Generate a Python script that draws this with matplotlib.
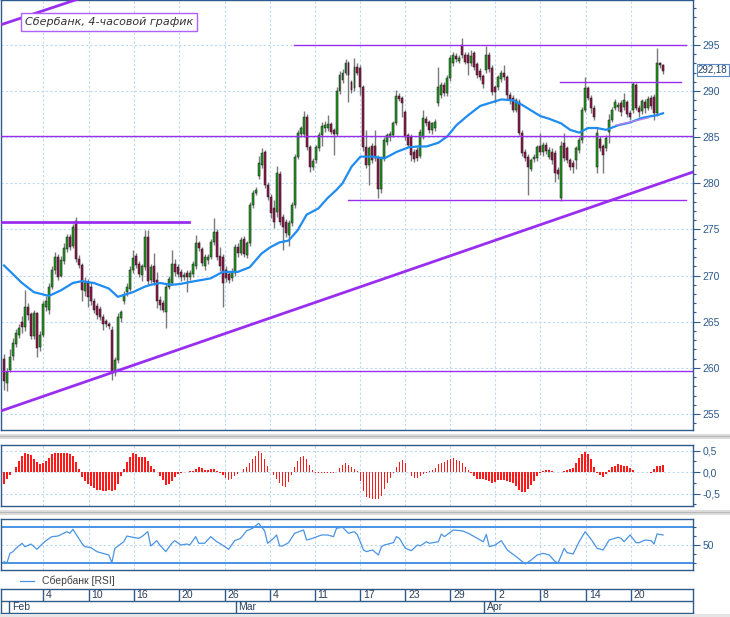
import matplotlib
matplotlib.use("Agg")
import matplotlib.pyplot as plt
from matplotlib.lines import Line2D
from matplotlib.patches import Rectangle
from matplotlib.ticker import FixedLocator, MultipleLocator

plt.rcParams['font.family'] = ['Liberation Sans', 'DejaVu Sans']

W, H = 730, 617

# ---- data, one bar = 4 hours ----
open_ = [
    261.0, 258.4, 259.8, 261.3, 262.6, 263.6, 265.0, 264.4, 266.6, 265.8,
    263.4, 265.9, 262.3, 263.6, 266.6, 266.3, 268.8, 270.6, 272.0, 270.0,
    271.6, 272.9, 274.2, 273.2, 275.9, 271.8, 271.2, 268.3, 269.2, 268.8,
    267.2, 266.7, 266.4, 265.5, 265.1, 264.8, 264.1, 259.5, 260.8, 265.4,
    267.2, 268.2, 268.6, 270.6, 272.1, 271.3, 270.1, 270.9, 274.2, 269.5,
    271.0, 269.5, 267.4, 267.0, 266.1, 268.8, 269.2, 271.3, 270.9, 270.4,
    269.8, 270.3, 269.8, 270.2, 271.0, 273.5, 272.9, 271.0, 271.7, 272.0,
    273.6, 274.7, 272.1, 272.0, 270.6, 270.2, 269.7, 270.3, 273.1, 272.5,
    274.0, 272.2, 273.5, 277.6, 279.0, 280.8, 282.0, 283.4, 279.8, 278.5,
    277.3, 276.9, 281.0, 276.4, 275.8, 274.4, 275.7, 277.6, 282.9, 285.4,
    285.4, 287.2, 283.9, 281.8, 282.5, 283.8, 285.2, 286.0, 286.0, 286.4,
    285.8, 285.4, 290.0, 291.2, 292.0, 293.0, 291.0, 290.3, 292.6, 292.5,
    290.4, 283.9, 282.0, 284.0, 284.0, 282.8, 279.4, 282.7, 284.5, 285.0,
    285.2, 286.5, 289.5, 289.3, 287.7, 285.2, 285.0, 283.4, 283.6, 283.0,
    285.0, 287.0, 286.6, 285.8, 286.0, 288.7, 289.6, 290.7, 289.8, 291.4,
    293.0, 293.8, 293.3, 295.0, 293.9, 293.9, 293.0, 294.1, 292.9, 292.2,
    291.6, 292.3, 293.9, 292.5, 290.4, 290.4, 291.3, 292.0, 291.5, 289.6,
    289.3, 288.0, 288.8, 285.5, 283.4, 282.9, 281.6, 282.6, 282.7, 284.0,
    283.4, 284.2, 282.9, 283.4, 283.3, 281.5, 278.4, 284.4, 283.8, 282.5,
    282.2, 282.5, 283.6, 284.7, 288.0, 290.3, 289.3, 288.2, 281.8, 284.8,
    284.0, 283.8, 285.6, 286.9, 288.2, 288.3, 288.7, 288.3, 288.8, 287.6,
    288.0, 290.7, 288.2, 287.8, 288.8, 288.2, 289.3, 289.4, 287.6, 293.0,
    292.8,
]
high = [
    261.5, 260.0, 262.0, 263.2, 264.2, 264.8, 265.6, 268.4, 267.0, 266.1,
    266.3, 266.1, 264.0, 267.3, 267.8, 269.2, 271.0, 272.6, 272.3, 272.1,
    273.5, 274.5, 274.5, 275.6, 276.3, 272.2, 271.4, 269.8, 269.6, 269.3,
    267.6, 267.0, 266.7, 265.8, 265.3, 265.0, 264.5, 261.2, 265.9, 266.3,
    268.3, 269.2, 271.0, 272.8, 272.4, 271.6, 271.3, 274.9, 274.9, 271.3,
    272.4, 270.4, 267.8, 267.4, 269.2, 270.0, 272.8, 271.8, 271.3, 270.7,
    270.4, 270.6, 270.6, 271.6, 274.4, 273.8, 273.1, 272.3, 272.3, 274.0,
    276.2, 275.0, 273.1, 272.3, 271.0, 270.5, 270.8, 273.4, 273.5, 274.2,
    274.3, 273.8, 278.0, 279.3, 279.6, 283.0, 283.8, 283.6, 280.2, 278.8,
    278.2, 281.9, 281.3, 276.7, 276.1, 276.0, 278.0, 283.2, 285.8, 286.2,
    287.8, 287.5, 284.2, 282.8, 284.2, 285.6, 286.7, 286.8, 287.4, 286.7,
    286.0, 290.4, 292.2, 292.4, 293.5, 293.3, 291.2, 293.6, 293.0, 292.8,
    290.7, 285.8, 284.1, 284.4, 285.8, 283.1, 283.0, 285.0, 285.5, 285.7,
    286.8, 290.1, 289.8, 289.5, 288.0, 285.5, 285.3, 283.7, 283.9, 285.9,
    287.9, 287.3, 286.9, 286.7, 287.0, 292.6, 291.0, 291.0, 291.7, 293.9,
    294.2, 294.1, 293.9, 295.8, 294.2, 294.2, 294.5, 294.4, 293.2, 292.5,
    291.9, 294.9, 294.2, 292.8, 290.7, 291.8, 292.3, 292.8, 291.8, 289.9,
    289.6, 289.3, 289.1, 285.8, 283.7, 283.2, 282.8, 283.2, 284.2, 285.5,
    284.5, 284.5, 283.9, 283.8, 283.6, 281.8, 284.6, 285.5, 284.1, 282.8,
    282.5, 284.1, 285.0, 288.3, 291.5, 290.6, 289.6, 288.5, 286.0, 285.1,
    284.3, 285.2, 287.5, 288.3, 289.1, 288.8, 289.0, 289.8, 289.0, 287.9,
    291.0, 290.9, 288.5, 289.2, 289.1, 289.5, 289.6, 289.7, 294.7, 293.2,
    292.9,
]
low = [
    257.6, 257.5, 259.5, 260.8, 262.3, 263.2, 263.8, 264.0, 265.2, 263.1,
    263.1, 261.2, 261.8, 263.3, 266.2, 265.8, 268.5, 270.2, 269.5, 269.8,
    271.3, 272.6, 272.8, 273.0, 271.5, 270.8, 267.3, 267.8, 266.6, 266.8,
    265.9, 265.3, 265.2, 264.1, 264.4, 264.2, 258.7, 259.1, 260.5, 265.0,
    266.9, 267.8, 268.3, 270.3, 270.8, 269.8, 269.4, 270.6, 269.0, 269.2,
    269.0, 266.5, 266.3, 266.0, 264.3, 268.5, 269.0, 270.0, 269.9, 269.4,
    269.5, 268.2, 269.5, 269.9, 270.7, 272.7, 271.0, 270.6, 271.3, 271.8,
    273.3, 271.7, 270.5, 266.6, 269.3, 269.2, 269.4, 270.0, 272.0, 272.2,
    272.0, 271.9, 273.2, 277.3, 278.7, 280.5, 281.7, 279.5, 278.2, 276.2,
    275.2, 276.4, 275.5, 272.8, 274.2, 273.2, 275.4, 277.3, 282.6, 285.0,
    285.0, 283.6, 281.2, 281.4, 282.2, 283.5, 284.1, 285.6, 285.7, 285.3,
    283.1, 285.1, 289.7, 290.9, 291.7, 288.8, 289.8, 290.0, 291.7, 289.6,
    283.5, 281.7, 279.8, 282.2, 282.4, 278.4, 279.0, 282.4, 284.2, 284.6,
    285.0, 286.3, 288.9, 287.2, 284.7, 283.9, 282.4, 282.3, 282.4, 282.7,
    284.8, 286.2, 285.5, 285.4, 285.7, 288.4, 289.3, 289.5, 289.5, 291.1,
    292.7, 293.2, 293.0, 293.6, 292.9, 291.7, 292.7, 292.3, 291.4, 291.2,
    290.3, 292.0, 292.1, 289.6, 288.7, 290.1, 291.0, 291.2, 289.1, 288.6,
    287.7, 287.7, 285.2, 283.0, 282.4, 278.7, 281.3, 282.3, 282.4, 283.1,
    283.0, 283.2, 282.6, 282.1, 280.1, 280.5, 278.1, 282.4, 282.2, 281.5,
    281.1, 281.6, 283.3, 284.4, 287.7, 289.0, 287.6, 286.9, 281.1, 283.5,
    281.1, 283.5, 284.4, 286.6, 287.9, 287.8, 287.3, 288.0, 287.2, 286.9,
    287.6, 287.9, 287.2, 287.5, 287.6, 287.9, 288.1, 286.9, 287.3, 292.5,
    291.9,
]
close = [
    258.6, 259.5, 261.2, 262.7, 263.8, 264.3, 264.4, 266.6, 265.7, 263.4,
    265.9, 262.2, 263.6, 266.9, 267.3, 268.8, 270.6, 272.0, 269.9, 271.7,
    273.0, 274.2, 273.1, 275.3, 271.8, 271.2, 268.4, 269.2, 267.7, 267.2,
    266.3, 265.7, 265.5, 264.8, 264.7, 264.5, 259.4, 260.8, 265.5, 266.0,
    267.9, 268.8, 270.6, 271.9, 271.1, 270.2, 271.0, 274.2, 269.4, 270.9,
    269.3, 267.3, 266.8, 266.3, 268.8, 269.6, 271.3, 270.4, 270.2, 269.8,
    270.1, 269.9, 270.3, 271.3, 273.5, 273.0, 271.4, 272.0, 272.0, 273.6,
    274.7, 272.0, 271.0, 269.2, 269.7, 269.5, 270.4, 273.1, 272.5, 273.9,
    272.3, 273.5, 277.6, 279.0, 279.3, 282.2, 283.3, 279.8, 278.5, 276.8,
    275.8, 281.1, 275.8, 275.3, 274.6, 275.7, 277.6, 282.9, 285.5, 286.0,
    287.2, 283.9, 281.8, 282.4, 283.9, 285.2, 286.2, 286.3, 286.4, 285.6,
    285.3, 290.0, 291.8, 292.0, 293.0, 291.8, 290.1, 292.6, 292.0, 290.4,
    283.9, 282.0, 283.8, 282.5, 282.7, 279.4, 282.7, 284.7, 285.2, 285.4,
    286.5, 289.5, 289.2, 288.7, 285.0, 284.2, 283.1, 282.6, 282.8, 285.6,
    287.1, 286.5, 285.8, 286.5, 286.6, 290.4, 290.7, 289.8, 291.4, 293.6,
    293.9, 293.5, 293.6, 293.9, 293.2, 293.0, 293.8, 292.6, 291.7, 291.5,
    290.8, 293.9, 292.4, 289.9, 289.9, 291.5, 292.0, 291.5, 289.6, 289.1,
    288.0, 289.0, 285.5, 283.3, 282.7, 281.8, 282.5, 282.9, 283.9, 283.4,
    284.2, 283.5, 283.6, 282.5, 281.1, 281.0, 284.1, 282.7, 282.5, 281.8,
    281.8, 283.8, 284.7, 288.0, 290.3, 289.3, 288.2, 287.2, 285.5, 283.8,
    283.1, 284.9, 286.9, 288.0, 288.8, 288.5, 287.7, 289.0, 287.5, 287.2,
    290.8, 288.2, 287.7, 288.9, 288.2, 289.2, 288.4, 287.6, 293.0, 292.8,
    292.18,
]

# moving average (blue line), read at selected bars
ma_bar = [0, 6, 10, 15, 19, 23, 26, 30, 35, 38, 43, 47, 49, 52, 56, 59, 62,
          69, 73, 78, 82, 86, 89, 92, 95, 98, 101, 105, 108, 111, 113, 116,
          119, 123, 127, 131, 135, 138, 141, 145, 148, 151, 155, 159, 163,
          166, 170, 173, 177, 179, 182, 186, 189, 192, 195, 198, 201, 205,
          209, 213, 218, 220]
ma_val = [271.1, 269.2, 268.2, 267.8, 268.4, 269.2, 269.4, 269.2, 268.6,
          267.7, 268.2, 268.8, 269.0, 269.2, 269.0, 269.1, 269.3, 269.7,
          270.4, 270.4, 270.9, 272.4, 273.1, 273.6, 273.8, 274.9, 276.6,
          277.3, 278.4, 279.3, 280.0, 281.8, 282.9, 282.9, 282.7, 283.4,
          283.9, 284.0, 284.0, 284.4, 285.1, 286.3, 287.4, 288.4, 288.8,
          289.1, 289.0, 288.5, 287.7, 287.3, 287.0, 286.5, 285.8, 285.5,
          286.0, 286.0, 285.8, 286.3, 286.6, 287.1, 287.4, 287.6]

# oscillator histogram (middle panel), one value per bar
osc = [
    -0.27, -0.17, -0.08, 0.01, 0.12, 0.25, 0.37, 0.44, 0.42, 0.39,
    0.31, 0.23, 0.19, 0.21, 0.26, 0.33, 0.43, 0.44, 0.44, 0.45,
    0.45, 0.44, 0.42, 0.37, 0.23, 0.06, -0.11, -0.21, -0.27, -0.33,
    -0.38, -0.42, -0.42, -0.43, -0.43, -0.42, -0.44, -0.41, -0.27, -0.10,
    0.06, 0.24, 0.36, 0.44, 0.43, 0.34, 0.35, 0.34, 0.26, 0.15,
    0.07, 0.01, -0.10, -0.18, -0.30, -0.27, -0.21, -0.11, -0.05, -0.03,
    -0.01, 0.01, 0.02, 0.03, 0.08, 0.11, 0.09, 0.05, 0.05, 0.07,
    0.07, 0.02, -0.03, -0.06, -0.13, -0.19, -0.16, -0.10, -0.04, 0.01,
    0.06, 0.11, 0.21, 0.31, 0.38, 0.48, 0.44, 0.31, 0.13, 0.01,
    -0.06, -0.16, -0.25, -0.33, -0.34, -0.24, -0.08, 0.12, 0.26, 0.36,
    0.38, 0.30, 0.16, 0.04, -0.02, -0.02, -0.02, -0.02, -0.02, -0.02,
    -0.03, -0.01, 0.10, 0.16, 0.21, 0.16, 0.11, 0.08, 0.02, -0.20,
    -0.45, -0.58, -0.61, -0.62, -0.63, -0.62, -0.55, -0.40, -0.26, -0.14,
    -0.03, 0.12, 0.23, 0.27, 0.20, 0.00, -0.10, -0.15, -0.14, -0.09,
    -0.04, -0.02, 0.03, 0.05, 0.10, 0.19, 0.22, 0.24, 0.28, 0.31,
    0.32, 0.29, 0.26, 0.20, 0.11, 0.04, -0.02, -0.10, -0.16, -0.17,
    -0.16, -0.18, -0.22, -0.25, -0.23, -0.19, -0.18, -0.19, -0.22, -0.24,
    -0.26, -0.33, -0.42, -0.47, -0.46, -0.40, -0.31, -0.21, -0.10, -0.02,
    0.02, 0.05, 0.05, 0.03, 0.00, -0.01, 0.01, 0.03, 0.04, 0.06,
    0.10, 0.20, 0.32, 0.42, 0.46, 0.43, 0.30, 0.12, -0.02, -0.08,
    -0.11, -0.04, 0.05, 0.12, 0.15, 0.18, 0.16, 0.13, 0.14, 0.10,
    0.04, 0.01, -0.01, -0.01, -0.01, -0.01, -0.02, 0.06, 0.13, 0.15,
    0.16,
]

# RSI, read at selected bars
rsi_bar = [0, 1, 2, 3, 4, 6, 7, 9, 11, 13, 14, 16, 18, 21, 22, 23, 26, 27,
           29, 31, 33, 35, 36, 37, 40, 41, 43, 45, 46, 48, 49, 51, 52, 54,
           56, 57, 59, 61, 62, 64, 65, 67, 69, 71, 72, 75, 77, 79, 81, 83,
           85, 87, 88, 90, 91, 92, 93, 95, 97, 100, 101, 103, 106, 108, 110,
           111, 113, 115, 117, 118, 120, 121, 123, 125, 126, 127, 130, 131,
           132, 134, 136, 138, 139, 141, 142, 145, 146, 147, 150, 153, 155,
           157, 160, 161, 162, 164, 166, 168, 171, 174, 176, 178, 180, 182,
           184, 185, 187, 188, 190, 192, 194, 196, 198, 200, 202, 205, 206,
           207, 209, 211, 212, 214, 216, 217, 218, 220]
rsi_val = [31.2, 30.0, 40.6, 42.5, 46.2, 51.9, 48.0, 51.1, 45.1, 51.9, 54.9,
           59.4, 60.1, 65.0, 63.2, 67.7, 51.9, 48.1, 47.0, 42.5, 40.6, 38.7,
           30.0, 46.2, 53.7, 60.1, 58.7, 57.5, 59.4, 65.0, 48.9, 54.9, 50.0,
           42.5, 51.9, 54.9, 50.0, 51.1, 50.0, 59.4, 51.9, 52.0, 59.4, 53.7,
           51.9, 45.1, 54.9, 57.5, 66.1, 68.8, 74.4, 66.1, 51.9, 57.5, 61.3,
           48.9, 48.9, 52.6, 63.2, 66.9, 55.6, 57.5, 61.3, 61.3, 59.4, 68.8,
           70.0, 63.2, 65.0, 61.3, 44.4, 42.5, 44.4, 38.7, 48.1, 50.0, 52.6,
           59.4, 57.5, 46.2, 43.6, 50.0, 49.0, 53.7, 51.9, 53.7, 62.4, 59.4,
           66.9, 65.9, 63.2, 59.4, 53.7, 61.9, 48.1, 50.0, 54.9, 44.4, 36.8,
           28.6, 33.1, 38.7, 40.6, 38.7, 31.2, 30.0, 46.2, 41.3, 39.9, 53.7,
           65.0, 56.4, 46.2, 44.4, 55.6, 58.7, 57.5, 53.7, 61.3, 52.6, 52.6,
           55.6, 54.9, 51.1, 62.4, 61.3]

# drawn lines: horizontal levels (start bar, end bar, price) and trend lines
level_price = [295.0, 291.0, 285.1, 278.2, 275.8, 259.65]
level_from = [96.7, 185.7, -1, 114.7, -1, -1]
level_to = [227.7, 226.0, 230, 227.7, 61.7, 230]
trend_bar = [-1, 230]
trend_price = [255.33, 281.23]
top_trend_bar = [-1, 30]
top_trend_price = [297.2, 300.55]
wedge_bar = [204.3, 215.0]
wedge_price = [286.3, 287.1]

day_pos = [13, 28.3, 43.3, 58.3, 73.7, 88.7, 103.7, 119, 134, 149, 164,
           179, 194.3, 209.3]
day_labels = ["4", "10", "16", "20", "26", "4", "11", "17", "23", "29",
              "2", "8", "14", "20"]
month_pos = [1.67, 77.3, 160.3]
month_labels = ["Feb", "Mar", "Apr"]

# ---- style ----
AXC = "#2E5A8C"
GRID = "#BCD8F4"
PURPLE = "#9A2EF0"
BULL = "#1E9E1E"
BEAR = "#96174C"
XLIM = (-1, 230)


def px_box(x0, y0, x1, y1):
    return [x0 / W, 1 - y1 / H, (x1 - x0) / W, (y1 - y0) / H]


def style_panel(ax):
    for s in ax.spines.values():
        s.set_color(AXC)
        s.set_linewidth(1.0)
    ax.set_xlim(*XLIM)
    ax.xaxis.set_major_locator(FixedLocator(day_pos))
    ax.tick_params(axis="x", length=0, labelbottom=False)
    ax.yaxis.tick_right()
    ax.tick_params(axis="y", which="both", direction="out", colors=AXC,
                   labelsize=7.5, pad=2, width=0.8)
    ax.tick_params(axis="y", which="major", length=5)
    ax.tick_params(axis="y", which="minor", length=2.5)
    ax.grid(True, which="major", color=GRID, linestyle=(0, (2, 2)),
            linewidth=0.8)
    ax.set_axisbelow(True)


fig = plt.figure(figsize=(W / 100, H / 100), dpi=100)
fig.patch.set_facecolor("white")

# ---- main price panel ----
ax = fig.add_axes(px_box(1, 0, 693, 430))
style_panel(ax)
ax.set_ylim(253.26, 299.88)
ax.yaxis.set_major_locator(MultipleLocator(5))
ax.yaxis.set_minor_locator(MultipleLocator(1))

bars = range(len(close))
ax.vlines(bars, low, high, color="#7A7A7A", linewidth=1.0, zorder=2)
colors = [BULL if c >= o else BEAR for o, c in zip(open_, close)]
heights = [max(abs(c - o), 0.12) for o, c in zip(open_, close)]
bottoms = [min(o, c) for o, c in zip(open_, close)]
ax.bar(bars, heights, bottom=bottoms, width=0.66, color=colors,
       edgecolor="#1A1A1A", linewidth=0.35, zorder=3)

ax.plot(ma_bar, ma_val, color="#1E8CF0", linewidth=1.6, zorder=4)

for p, a, b in zip(level_price, level_from, level_to):
    lw = 2.0 if p == 275.8 else 1.0
    ax.plot([a, b], [p, p], color=PURPLE, linewidth=lw, zorder=5)
ax.plot(trend_bar, trend_price, color=PURPLE, linewidth=2.0, zorder=5)
ax.plot(top_trend_bar, top_trend_price, color=PURPLE, linewidth=2.0, zorder=5)
ax.plot(wedge_bar, wedge_price, color="#B77CF2", linewidth=1.0, zorder=5)

ax.text(0.035, 0.948, "Сбербанк, 4-часовой график", transform=ax.transAxes,
        fontsize=8, style="italic", color="#333333", va="center", ha="left",
        family="DejaVu Sans", zorder=6,
        bbox=dict(facecolor="white", edgecolor="#B060FF", linewidth=1.0,
                  boxstyle="square,pad=0.35"))

last = f"{close[-1]:.2f}".replace(".", ",")
fig.text(698 / W, 1 - 70 / H, last, fontsize=7, color="#1F3F66",
         va="center", ha="left",
         bbox=dict(facecolor="white", edgecolor="#5A8AC8", linewidth=0.8,
                   boxstyle="square,pad=0.15"))

# ---- oscillator panel ----
ax2 = fig.add_axes(px_box(1, 445, 693, 506))
style_panel(ax2)
ax2.set_ylim(-0.79, 0.628)
ax2.yaxis.set_major_locator(FixedLocator([-0.5, 0.0, 0.5]))
ax2.yaxis.set_minor_locator(MultipleLocator(0.25))
ax2.set_yticklabels(["-0,5", "0,0", "0,5"])
ax2.bar(bars, osc, width=0.55, color="#FF1A1A", zorder=3)

# ---- RSI panel ----
ax3 = fig.add_axes(px_box(1, 519, 693, 570))
style_panel(ax3)
ax3.set_ylim(21.8, 79.3)
ax3.yaxis.set_major_locator(FixedLocator([50]))
ax3.yaxis.set_minor_locator(FixedLocator([30, 40, 60, 70]))
ax3.plot(rsi_bar, rsi_val, color="#4A94E4", linewidth=0.9, zorder=3)
ax3.axhline(70, color="#3A8AE2", linewidth=1.3, zorder=2)
ax3.axhline(30, color="#3A8AE2", linewidth=1.3, zorder=2)

# separators between panels
for y0, y1 in [(434, 439), (510, 515)]:
    fig.add_artist(Rectangle((0, 1 - y1 / H), 1, (y1 - y0) / H,
                             transform=fig.transFigure, facecolor="#DCDCDC",
                             edgecolor="none"))
    fig.add_artist(Line2D([0, 1], [1 - (y0 + 1.5) / H] * 2, color="#B8B8B8",
                          linewidth=0.8))

# legend
fig.add_artist(Line2D([20 / W, 34 / W], [1 - 581 / H] * 2, color="#4A94E4",
                      linewidth=0.9))
fig.text(42 / W, 1 - 581 / H, "Сбербанк [RSI]", fontsize=7.5, color="#404040",
         va="center", ha="left")

# ---- date axis ----
axd = fig.add_axes(px_box(1, 589, 693, 613))
axd.set_xlim(*XLIM)
axd.set_ylim(0, 2)
axd.set_xticks([])
axd.set_yticks([])
for s in axd.spines.values():
    s.set_color(AXC)
    s.set_linewidth(1.0)
axd.axhline(1, color=AXC, linewidth=1.0)
axd.vlines(day_pos, 1, 2, color=AXC, linewidth=1.0)
axd.vlines(month_pos, 0, 1, color=AXC, linewidth=1.0)
for p, t in zip(day_pos, day_labels):
    axd.text(p + 0.9, 1.5, t, fontsize=7.5, color="#2A3F5C", va="center",
             ha="left")
for p, t in zip(month_pos, month_labels):
    axd.text(p + 0.9, 0.5, t, fontsize=7.5, color="#2A3F5C", va="center",
             ha="left")

fig.add_artist(Rectangle((0, 0), 1, 3 / H, transform=fig.transFigure,
                         facecolor="#E6E6E6", edgecolor="none"))

fig.savefig("out.png", dpi=100)
